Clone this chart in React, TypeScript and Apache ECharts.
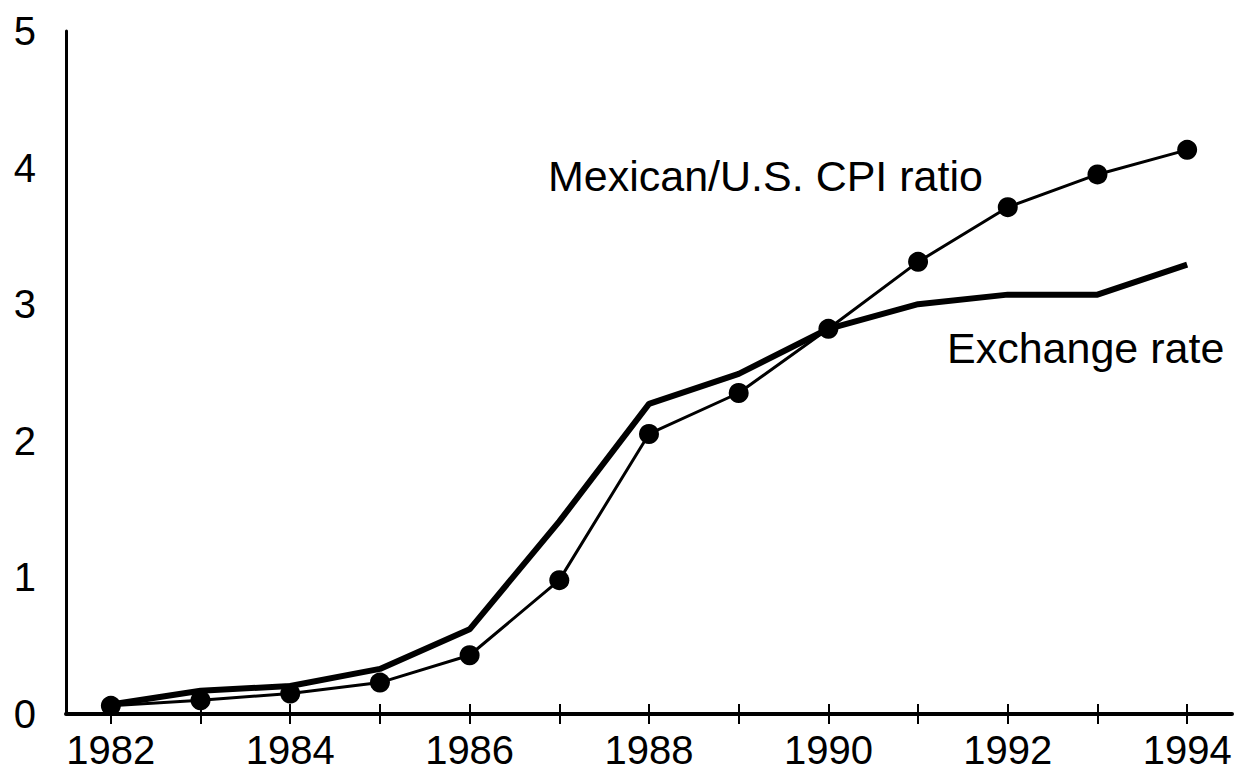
import React, { useEffect, useRef } from "react";
import * as echarts from "echarts";

const years = ["1982", "1983", "1984", "1985", "1986", "1987", "1988", "1989", "1990", "1991", "1992", "1993", "1994"];
const cpiRatio = [0.06, 0.1, 0.15, 0.23, 0.43, 0.98, 2.05, 2.35, 2.82, 3.31, 3.71, 3.95, 4.13];
const exchangeRate = [0.07, 0.17, 0.205, 0.33, 0.62, 1.41, 2.27, 2.49, 2.82, 3.0, 3.07, 3.07, 3.29];
const yTicks = [0, 1, 2, 3, 4, 5];

const FONT = "'Liberation Sans', Arial, Helvetica, sans-serif";

export default function App() {
  const ref = useRef<HTMLDivElement>(null);
  useEffect(() => {
    if (!ref.current) return;
    const chart = echarts.init(ref.current, null, { renderer: "svg" });
    chart.setOption({
      animation: false,
      backgroundColor: "#ffffff",
      grid: { left: 66, right: 24, top: 31, bottom: 63 },
      xAxis: [
        {
          type: "category",
          data: years,
          boundaryGap: true,
          position: "bottom",
          axisLine: { show: true, lineStyle: { color: "#000", width: 4 } },
          axisTick: { show: true, alignWithLabel: true, interval: 0, length: 10, lineStyle: { color: "#000", width: 2 } },
          axisLabel: { interval: 1, color: "#000", fontSize: 40, fontFamily: FONT, margin: 16 },
          splitLine: { show: false },
        },
        {
          type: "category",
          data: years,
          boundaryGap: true,
          position: "bottom",
          axisLine: { show: false },
          axisTick: { show: true, inside: true, alignWithLabel: true, interval: 0, length: 10, lineStyle: { color: "#000", width: 2 } },
          axisLabel: { show: false },
          splitLine: { show: false },
        },
      ],
      yAxis: {
        type: "value",
        min: yTicks[0],
        max: yTicks[yTicks.length - 1],
        interval: 1,
        axisLine: { show: true, lineStyle: { color: "#000", width: 3 } },
        axisTick: { show: false },
        axisLabel: { color: "#000", fontSize: 40, fontFamily: FONT, margin: 30 },
        splitLine: { show: false },
      },
      series: [
        {
          name: "Exchange rate",
          type: "line",
          data: exchangeRate,
          symbol: "none",
          lineStyle: { color: "#000", width: 6 },
          z: 2,
        },
        {
          name: "Mexican/U.S. CPI ratio",
          type: "line",
          data: cpiRatio,
          symbol: "circle",
          symbolSize: 20,
          itemStyle: { color: "#000" },
          lineStyle: { color: "#000", width: 3 },
          z: 3,
        },
      ],
      graphic: [
        {
          type: "text",
          left: 548,
          top: 154,
          style: { text: "Mexican/U.S. CPI ratio", fill: "#000", fontSize: 43, fontFamily: FONT },
        },
        {
          type: "text",
          left: 947,
          top: 326,
          style: { text: "Exchange rate", fill: "#000", fontSize: 43, fontFamily: FONT },
        },
      ],
    });
    return () => chart.dispose();
  }, []);
  return (
    <div
      ref={ref}
      style={{ position: "fixed", left: 0, top: 0, width: 1256, height: 777, background: "#fff" }}
    />
  );
}
